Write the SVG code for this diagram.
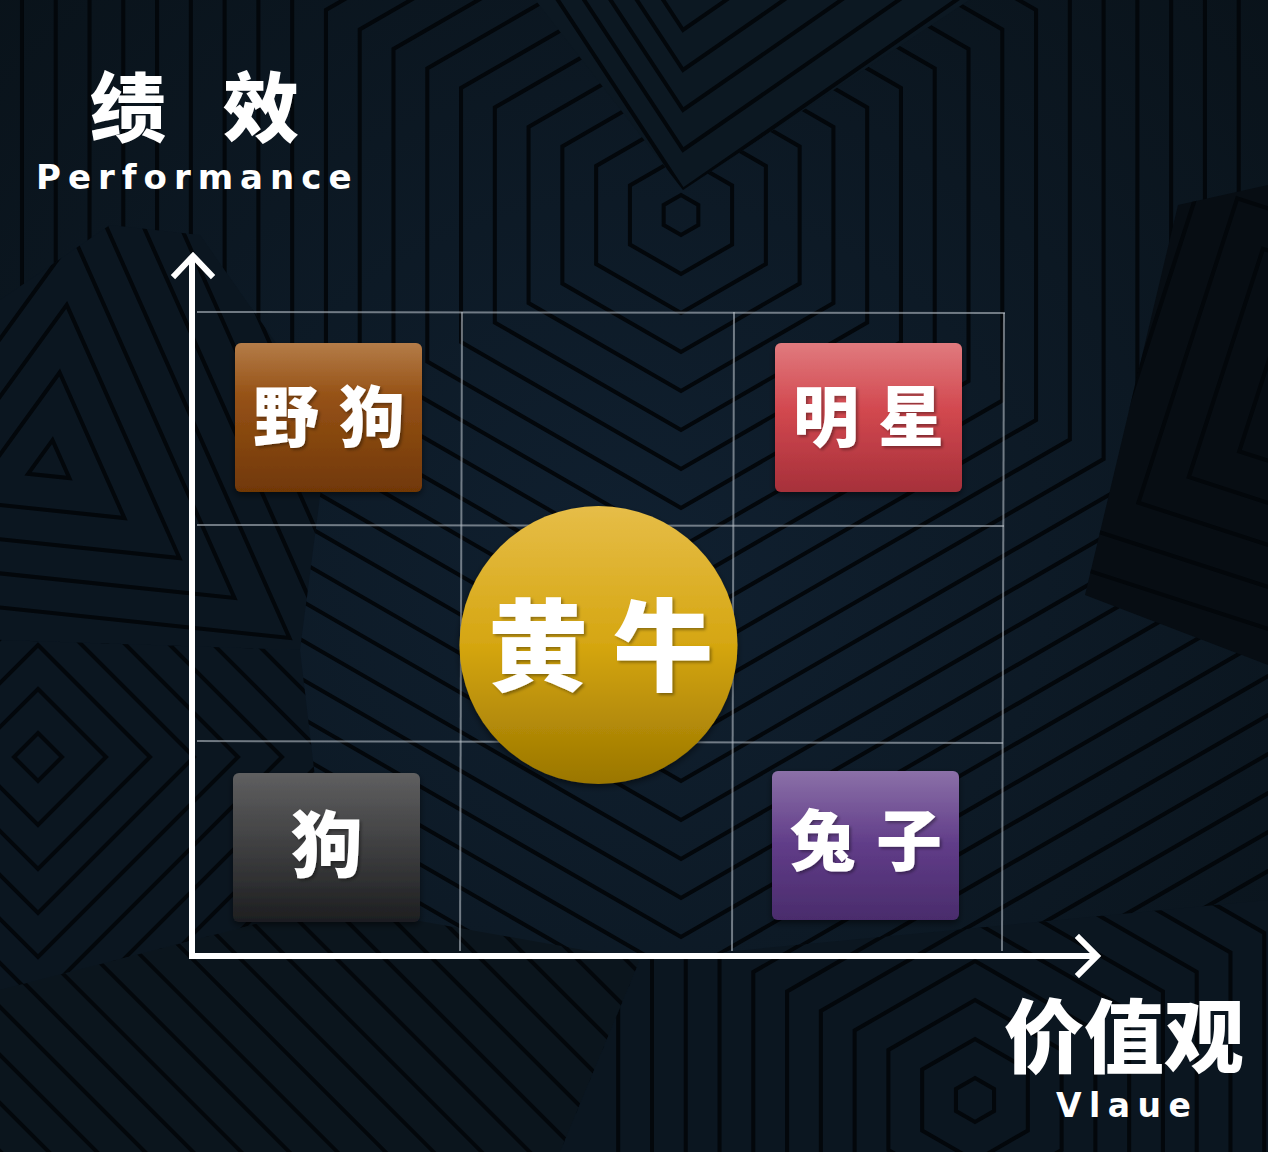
<svg xmlns="http://www.w3.org/2000/svg" xmlns:xlink="http://www.w3.org/1999/xlink" width="1268" height="1152" viewBox="0 0 1268 1152">
<style>
.ln{fill:none;stroke:#03070b;stroke-width:4;vector-effect:non-scaling-stroke}
.grid{stroke:#b4bcc4;stroke-opacity:0.6;stroke-width:2;fill:none}
.axis{stroke:#ffffff;stroke-width:6;fill:none;stroke-linecap:square}
.cjk{font-family:"Noto Sans CJK SC","Noto Sans CJK JP",sans-serif;font-weight:900;fill:#ffffff;text-anchor:middle}
.lat{font-family:"DejaVu Sans","Liberation Sans",sans-serif;font-weight:700;fill:#ffffff}
</style>
<defs>
<polygon id="hx" class="ln" points="0,-1 0.866,-0.5 0.866,0.5 0,1 -0.866,0.5 -0.866,-0.5"/>
<polygon id="tri" class="ln" points="0,-1 0.866,0.5 -0.866,0.5"/>
<polygon id="dia" class="ln" points="0,-1 1,0 0,1 -1,0"/>
<polygon id="sq" class="ln" points="-1,-1 1,-1 1,1 -1,1"/>
<radialGradient id="bgG" cx="0.5" cy="0.5" r="0.75">
<stop offset="0" stop-color="#102030"/>
<stop offset="1" stop-color="#091219"/>
</radialGradient>
<pattern id="diag" width="34" height="34" patternUnits="userSpaceOnUse" patternTransform="rotate(-45)">
<rect width="34" height="34" fill="#0b151d"/>
<line x1="0" y1="0" x2="0" y2="34" stroke="#03070b" stroke-width="8"/>
</pattern>
<clipPath id="cTri"><polygon points="0,300 110,225 200,235 330,420 300,650 0,640"/></clipPath>
<clipPath id="cDia"><polygon points="0,640 300,650 330,905 0,990"/></clipPath>
<clipPath id="cBL"><polygon points="0,990 330,905 640,960 560,1152 0,1152"/></clipPath>
<clipPath id="cBR"><polygon points="640,960 1268,900 1268,1152 560,1152"/></clipPath>
<clipPath id="cR"><polygon points="1085,595 1178,205 1268,185 1268,665"/></clipPath>
<clipPath id="cV"><polygon points="380,-200 683,190 1150,-120"/></clipPath>
<linearGradient id="gBrown" x1="0" y1="0" x2="0" y2="1">
<stop offset="0" stop-color="#b47c48"/>
<stop offset="0.35" stop-color="#965216"/>
<stop offset="1" stop-color="#713806"/>
</linearGradient>
<linearGradient id="gRed" x1="0" y1="0" x2="0" y2="1">
<stop offset="0" stop-color="#e07a7e"/>
<stop offset="0.45" stop-color="#d2484f"/>
<stop offset="1" stop-color="#a6303a"/>
</linearGradient>
<linearGradient id="gGray" x1="0" y1="0" x2="0" y2="1">
<stop offset="0" stop-color="#5f5f60"/>
<stop offset="1" stop-color="#1d1e20"/>
</linearGradient>
<linearGradient id="gPurp" x1="0" y1="0" x2="0" y2="1">
<stop offset="0" stop-color="#8b70a8"/>
<stop offset="0.5" stop-color="#603c88"/>
<stop offset="1" stop-color="#4a2c6c"/>
</linearGradient>
<linearGradient id="gGold" x1="0" y1="0" x2="0" y2="1">
<stop offset="0" stop-color="#e6bd48"/>
<stop offset="0.5" stop-color="#d5a611"/>
<stop offset="1" stop-color="#9a7600"/>
</linearGradient>
<filter id="tsh" x="-20%" y="-20%" width="140%" height="140%">
<feDropShadow dx="2" dy="2" stdDeviation="1.5" flood-color="#000" flood-opacity="0.35"/>
</filter>
<filter id="bsh" x="-10%" y="-10%" width="120%" height="125%">
<feDropShadow dx="0" dy="3" stdDeviation="3" flood-color="#000" flood-opacity="0.5"/>
</filter>
</defs>

<g id="background">
<rect width="1268" height="1152" fill="url(#bgG)"/>
<g transform="translate(681,215)">
<use href="#hx" transform="scale(20)"/><use href="#hx" transform="scale(59)"/><use href="#hx" transform="scale(98)"/><use href="#hx" transform="scale(137)"/><use href="#hx" transform="scale(176)"/><use href="#hx" transform="scale(215)"/><use href="#hx" transform="scale(254)"/><use href="#hx" transform="scale(293)"/><use href="#hx" transform="scale(332)"/><use href="#hx" transform="scale(371)"/><use href="#hx" transform="scale(410)"/><use href="#hx" transform="scale(449)"/><use href="#hx" transform="scale(488)"/><use href="#hx" transform="scale(527)"/><use href="#hx" transform="scale(566)"/><use href="#hx" transform="scale(605)"/><use href="#hx" transform="scale(644)"/><use href="#hx" transform="scale(683)"/><use href="#hx" transform="scale(722)"/><use href="#hx" transform="scale(761)"/><use href="#hx" transform="scale(800)"/><use href="#hx" transform="scale(839)"/><use href="#hx" transform="scale(878)"/><use href="#hx" transform="scale(917)"/><use href="#hx" transform="scale(956)"/><use href="#hx" transform="scale(995)"/><use href="#hx" transform="scale(1034)"/><use href="#hx" transform="scale(1073)"/><use href="#hx" transform="scale(1112)"/><use href="#hx" transform="scale(1151)"/><use href="#hx" transform="scale(1190)"/>
</g>
<g clip-path="url(#cV)">
<rect x="300" y="-200" width="900" height="400" fill="#0c1822"/>
<polyline class="ln" points="463,-144 683,190 1011,-38"/>
<polyline class="ln" points="463,-184 683,150 1011,-78"/>
<polyline class="ln" points="463,-224 683,110 1011,-118"/>
<polyline class="ln" points="463,-264 683,70 1011,-158"/>
<polyline class="ln" points="463,-304 683,30 1011,-198"/>
<polyline class="ln" points="463,-344 683,-10 1011,-238"/>
</g>
<g clip-path="url(#cTri)">
<rect x="0" y="200" width="340" height="460" fill="#0b1620"/>
<g transform="translate(50,464) rotate(6)">
<use href="#tri" transform="scale(24)"/><use href="#tri" transform="scale(92)"/><use href="#tri" transform="scale(160)"/><use href="#tri" transform="scale(228)"/><use href="#tri" transform="scale(296)"/><use href="#tri" transform="scale(364)"/><use href="#tri" transform="scale(432)"/><use href="#tri" transform="scale(500)"/>
</g>
</g>
<g clip-path="url(#cDia)">
<rect x="0" y="630" width="340" height="370" fill="#0b1620"/>
<g transform="translate(38,757)">
<use href="#dia" transform="scale(24)"/><use href="#dia" transform="scale(68)"/><use href="#dia" transform="scale(112)"/><use href="#dia" transform="scale(156)"/><use href="#dia" transform="scale(200)"/><use href="#dia" transform="scale(244)"/><use href="#dia" transform="scale(288)"/><use href="#dia" transform="scale(332)"/><use href="#dia" transform="scale(376)"/>
</g>
</g>
<g clip-path="url(#cBL)">
<rect x="0" y="880" width="660" height="280" fill="url(#diag)"/>
</g>
<g clip-path="url(#cBR)">
<rect x="540" y="880" width="740" height="280" fill="#0b1620"/>
<g transform="translate(975,1100)">
<use href="#hx" transform="scale(22)"/><use href="#hx" transform="scale(61)"/><use href="#hx" transform="scale(100)"/><use href="#hx" transform="scale(139)"/><use href="#hx" transform="scale(178)"/><use href="#hx" transform="scale(217)"/><use href="#hx" transform="scale(256)"/><use href="#hx" transform="scale(295)"/><use href="#hx" transform="scale(334)"/><use href="#hx" transform="scale(373)"/><use href="#hx" transform="scale(412)"/>
</g>
</g>
<g clip-path="url(#cR)">
<rect x="1060" y="180" width="210" height="500" fill="#070d13"/>
<g transform="translate(1340,400) rotate(18)">
<use href="#sq" transform="scale(40)"/><use href="#sq" transform="scale(80)"/><use href="#sq" transform="scale(120)"/><use href="#sq" transform="scale(160)"/><use href="#sq" transform="scale(200)"/><use href="#sq" transform="scale(240)"/><use href="#sq" transform="scale(280)"/>
</g>
</g>
</g>

<g id="grid">
<line class="grid" x1="197" y1="312" x2="1005" y2="313"/>
<line class="grid" x1="197" y1="525" x2="1004" y2="526"/>
<line class="grid" x1="197" y1="741" x2="1003" y2="743"/>
<line class="grid" x1="462" y1="312" x2="460" y2="951"/>
<line class="grid" x1="734" y1="312" x2="732" y2="951"/>
<line class="grid" x1="1004" y1="313" x2="1002" y2="951"/>
</g>

<g id="connectors">
<line class="axis" x1="192" y1="956" x2="192" y2="262"/>
<polyline class="axis" points="175,275 193,256 211,275" stroke-linecap="round" stroke-linejoin="miter"/>
<line class="axis" x1="192" y1="956" x2="1092" y2="956"/>
<polyline class="axis" points="1079,938 1097,956 1079,974" stroke-linecap="round" stroke-linejoin="miter"/>
</g>

<g id="label-performance">
<text class="cjk" x="128" y="136" font-size="76">绩</text>
<text class="cjk" x="261" y="136" font-size="76">效</text>
<text class="lat" x="36" y="189" font-size="34" letter-spacing="7">Performance</text>
</g>

<g id="label-value">
<text class="cjk" x="1124" y="1066" font-size="80">价值观</text>
<text class="lat" x="1056" y="1117" font-size="33" letter-spacing="7.5">Vlaue</text>
</g>

<g id="node-wild-dog">
<rect x="235" y="343" width="187" height="149" rx="6" fill="url(#gBrown)" filter="url(#bsh)"/>
<text class="cjk" y="441" font-size="66" filter="url(#tsh)"><tspan x="286">野</tspan><tspan x="372">狗</tspan></text>
</g>

<g id="node-star">
<rect x="775" y="343" width="187" height="149" rx="6" fill="url(#gRed)" filter="url(#bsh)"/>
<text class="cjk" y="441" font-size="66" filter="url(#tsh)"><tspan x="826">明</tspan><tspan x="911">星</tspan></text>
</g>

<g id="node-dog">
<rect x="233" y="773" width="187" height="149" rx="6" fill="url(#gGray)" filter="url(#bsh)"/>
<text class="cjk" x="327" y="871" font-size="72" filter="url(#tsh)">狗</text>
</g>

<g id="node-rabbit">
<rect x="772" y="771" width="187" height="149" rx="6" fill="url(#gPurp)" filter="url(#bsh)"/>
<text class="cjk" y="865" font-size="66" filter="url(#tsh)"><tspan x="823">兔</tspan><tspan x="909">子</tspan></text>
</g>

<g id="node-ox">
<circle cx="598.5" cy="645" r="139" fill="url(#gGold)" filter="url(#bsh)"/>
<text class="cjk" y="683" font-size="100" filter="url(#tsh)"><tspan x="538">黄</tspan><tspan x="663">牛</tspan></text>
</g>
</svg>
